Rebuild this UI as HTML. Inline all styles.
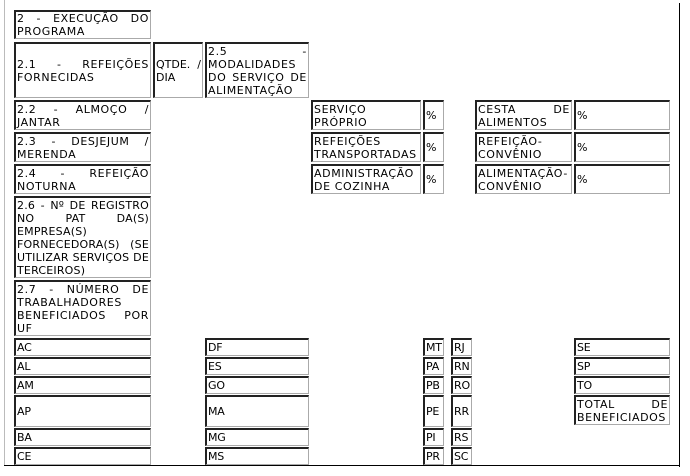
<!DOCTYPE html>
<html><head><meta charset="utf-8"><style>
html,body{margin:0;padding:0;background:#fff;width:690px;height:476px;overflow:hidden;position:relative}
.b{position:absolute;box-sizing:border-box;border-top:2px solid #222;border-left:2px solid #222;border-right:1px solid #aaa;border-bottom:1px solid #aaa;font-family:"DejaVu Sans","Liberation Sans",sans-serif;font-size:11px;letter-spacing:0.6px;line-height:13px;color:#000;padding:0 1px 0 1px;display:flex;align-items:center;overflow:hidden}
.b span{display:block;width:100%;text-align:justify;text-align-last:left}
.s{letter-spacing:-0.2px}
</style></head><body>
<div style="position:absolute;left:4px;top:0;width:1px;height:466px;background:#bbb"></div>
<div style="position:absolute;left:679px;top:3px;width:1px;height:464px;background:#000"></div>
<div style="position:absolute;left:4px;top:465px;width:676px;height:1px;background:#000"></div>

<div class="b" style="left:14px;top:10px;width:137px;height:29px"><span>2 - EXECUÇÃO DO PROGRAMA</span></div>
<div class="b" style="left:14px;top:42px;width:137px;height:56px"><span>2.1 - REFEIÇÕES FORNECIDAS</span></div>
<div class="b" style="left:153px;top:42px;width:50px;height:56px;letter-spacing:0"><span>QTDE. / DIA</span></div>
<div class="b" style="left:205px;top:42px;width:104px;height:56px"><span>2.5 - MODALIDADES DO SERVIÇO DE ALIMENTAÇÃO</span></div>
<div class="b" style="left:14px;top:100px;width:137px;height:30px"><span>2.2 - ALMOÇO / JANTAR</span></div>
<div class="b" style="left:14px;top:132px;width:137px;height:30px"><span>2.3 - DESJEJUM / MERENDA</span></div>
<div class="b" style="left:14px;top:164px;width:137px;height:30px"><span>2.4 - REFEIÇÃO NOTURNA</span></div>
<div class="b" style="left:14px;top:196px;width:137px;height:82px;letter-spacing:0.2px"><span>2.6 - Nº DE REGISTRO NO PAT DA(S) EMPRESA(S) FORNECEDORA(S) (SE UTILIZAR SERVIÇOS DE TERCEIROS)</span></div>
<div class="b" style="left:14px;top:280px;width:137px;height:56px"><span>2.7 - NÚMERO DE TRABALHADORES BENEFICIADOS POR UF</span></div>

<div class="b" style="left:311px;top:100px;width:110px;height:30px"><span>SERVIÇO PRÓPRIO</span></div>
<div class="b" style="left:311px;top:132px;width:110px;height:30px"><span>REFEIÇÕES TRANSPORTADAS</span></div>
<div class="b" style="left:311px;top:164px;width:110px;height:30px"><span>ADMINISTRAÇÃO DE COZINHA</span></div>
<div class="b" style="left:423px;top:100px;width:21px;height:30px"><span>%</span></div>
<div class="b" style="left:423px;top:132px;width:21px;height:30px"><span>%</span></div>
<div class="b" style="left:423px;top:164px;width:21px;height:30px"><span>%</span></div>
<div class="b" style="left:475px;top:100px;width:97px;height:30px"><span>CESTA DE ALIMENTOS</span></div>
<div class="b" style="left:475px;top:132px;width:97px;height:30px"><span>REFEIÇÃO-CONVÊNIO</span></div>
<div class="b" style="left:475px;top:164px;width:97px;height:30px"><span>ALIMENTAÇÃO-CONVÊNIO</span></div>
<div class="b" style="left:574px;top:100px;width:96px;height:30px"><span>%</span></div>
<div class="b" style="left:574px;top:132px;width:96px;height:30px"><span>%</span></div>
<div class="b" style="left:574px;top:164px;width:96px;height:30px"><span>%</span></div>

<div class="b s" style="left:14px;top:338px;width:137px;height:18px"><span>AC</span></div>
<div class="b s" style="left:14px;top:357px;width:137px;height:18px"><span>AL</span></div>
<div class="b s" style="left:14px;top:376px;width:137px;height:18px"><span>AM</span></div>
<div class="b s" style="left:14px;top:395px;width:137px;height:32px"><span>AP</span></div>
<div class="b s" style="left:14px;top:428px;width:137px;height:18px"><span>BA</span></div>
<div class="b s" style="left:14px;top:447px;width:137px;height:18px"><span>CE</span></div>

<div class="b s" style="left:205px;top:338px;width:104px;height:18px"><span>DF</span></div>
<div class="b s" style="left:205px;top:357px;width:104px;height:18px"><span>ES</span></div>
<div class="b s" style="left:205px;top:376px;width:104px;height:18px"><span>GO</span></div>
<div class="b s" style="left:205px;top:395px;width:104px;height:32px"><span>MA</span></div>
<div class="b s" style="left:205px;top:428px;width:104px;height:18px"><span>MG</span></div>
<div class="b s" style="left:205px;top:447px;width:104px;height:18px"><span>MS</span></div>

<div class="b s" style="left:423px;top:338px;width:21px;height:18px"><span>MT</span></div>
<div class="b s" style="left:423px;top:357px;width:21px;height:18px"><span>PA</span></div>
<div class="b s" style="left:423px;top:376px;width:21px;height:18px"><span>PB</span></div>
<div class="b s" style="left:423px;top:395px;width:21px;height:32px"><span>PE</span></div>
<div class="b s" style="left:423px;top:428px;width:21px;height:18px"><span>PI</span></div>
<div class="b s" style="left:423px;top:447px;width:21px;height:18px"><span>PR</span></div>

<div class="b s" style="left:451px;top:338px;width:21px;height:18px"><span>RJ</span></div>
<div class="b s" style="left:451px;top:357px;width:21px;height:18px"><span>RN</span></div>
<div class="b s" style="left:451px;top:376px;width:21px;height:18px"><span>RO</span></div>
<div class="b s" style="left:451px;top:395px;width:21px;height:32px"><span>RR</span></div>
<div class="b s" style="left:451px;top:428px;width:21px;height:18px"><span>RS</span></div>
<div class="b s" style="left:451px;top:447px;width:21px;height:18px"><span>SC</span></div>

<div class="b s" style="left:574px;top:338px;width:96px;height:18px"><span>SE</span></div>
<div class="b s" style="left:574px;top:357px;width:96px;height:18px"><span>SP</span></div>
<div class="b s" style="left:574px;top:376px;width:96px;height:18px"><span>TO</span></div>
<div class="b" style="left:574px;top:395px;width:96px;height:30px"><span>TOTAL DE BENEFICIADOS</span></div>
</body></html>
